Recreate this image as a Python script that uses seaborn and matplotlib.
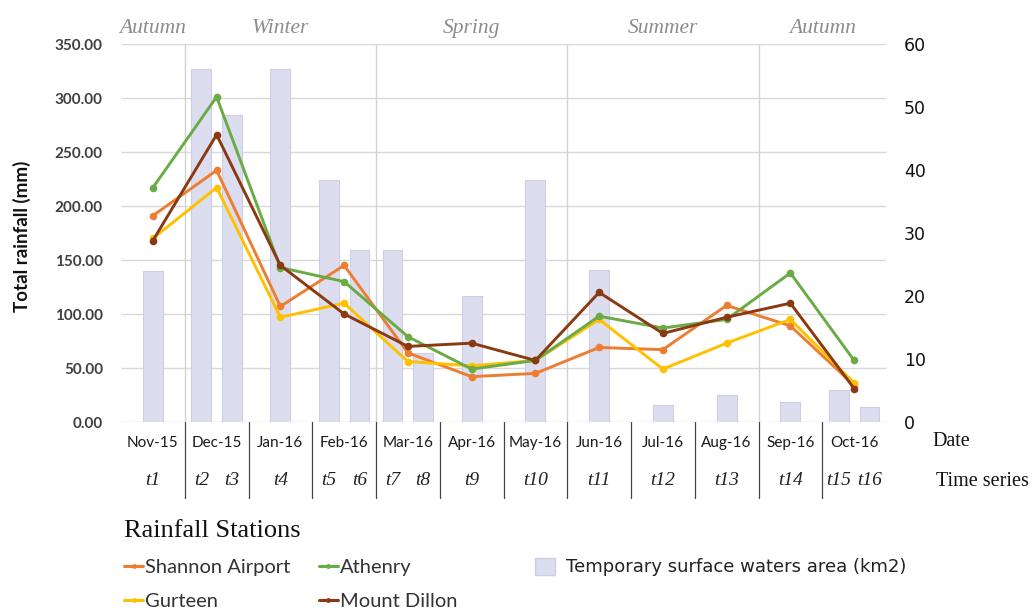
import numpy as np
import pandas as pd
import matplotlib
matplotlib.use("Agg")
import matplotlib.pyplot as plt
from matplotlib.lines import Line2D
from matplotlib.patches import Patch
import matplotlib.transforms as mtransforms
import seaborn as sns

# ---- data -------------------------------------------------------------
months = ["Nov-15", "Dec-15", "Jan-16", "Feb-16", "Mar-16", "Apr-16",
          "May-16", "Jun-16", "Jul-16", "Aug-16", "Sep-16", "Oct-16"]

stations = ["Shannon Airport", "Athenry", "Gurteen", "Mount Dillon"]
shannon_airport = [191, 233, 107, 145, 64, 42, 45, 69, 67, 108, 89, 34]
athenry = [217, 301, 143, 130, 79, 49, 57, 98, 87, 95, 138, 57]
gurteen = [170, 217, 97, 110, 56, 52, 57, 95, 49, 73, 95, 36]
mount_dillon = [168, 266, 145, 100, 70, 73, 57, 120, 82, 97, 110, 31]

time_series = ["t1", "t2", "t3", "t4", "t5", "t6", "t7", "t8",
               "t9", "t10", "t11", "t12", "t13", "t14", "t15", "t16"]
# month index (into `months`) of each acquisition
acq_month = [0, 1, 1, 2, 3, 3, 4, 4, 5, 6, 7, 8, 9, 10, 11, 11]
water_area = [24, 56, 48.7, 56, 38.4, 27.3, 27.3, 11, 20, 38.4,
              24.1, 2.7, 4.3, 3.2, 5.1, 2.4]

seasons = ["Autumn", "Winter", "Spring", "Summer", "Autumn"]
season_bounds = [-0.5, 0.5, 3.5, 6.5, 9.5, 11.5]

colors = {"Shannon Airport": "#ED7D31", "Athenry": "#6AAB45",
          "Gurteen": "#FFC000", "Mount Dillon": "#8A3A12"}

# ---- layout helpers ---------------------------------------------------
# spread acquisitions that share a month symmetrically around its centre
acq_x = []
for i, m in enumerate(acq_month):
    n = acq_month.count(m)
    if n == 1:
        acq_x.append(float(m))
    else:
        k = [j for j, mm in enumerate(acq_month) if mm == m].index(i)
        acq_x.append(m + (-0.24 if k == 0 else 0.24))

df = pd.DataFrame({
    "month": np.tile(np.arange(len(months)), len(stations)),
    "station": np.repeat(stations, len(months)),
    "rainfall": np.concatenate([shannon_airport, athenry, gurteen, mount_dillon]),
})

# ---- figure -----------------------------------------------------------
sns.set_style("white")
W, H = 1034, 616
fig = plt.figure(figsize=(W / 100, H / 100), dpi=100)
ax = fig.add_axes([121 / W, 194 / H, 765 / W, 378 / H])
ax2 = ax.twinx()
ax.set_zorder(ax2.get_zorder() + 1)
ax.patch.set_visible(False)

# horizontal grid (rainfall scale) and season dividers, behind the bars
grid_vals = np.arange(0, 351, 50)
ax2.hlines(grid_vals, -0.5, 11.5, colors="#D9D9D9", linewidth=1.0,
           transform=ax.transData, zorder=0)
ax2.vlines(season_bounds[1:-1], 0, 350, colors="#D3D3D3", linewidth=1.0,
           transform=ax.transData, zorder=0)

# surface water bars
ax2.bar(acq_x, water_area, width=0.31, color="#DDDDF0", edgecolor="#CDCDE6",
        linewidth=0.8, zorder=2)

# rainfall lines
draw_order = ["Shannon Airport", "Gurteen", "Athenry", "Mount Dillon"]
sns.lineplot(data=df, x="month", y="rainfall", hue="station",
             hue_order=draw_order, palette=colors, marker="o", markersize=5.5,
             markeredgewidth=0, linewidth=2.1, legend=False, ax=ax)

ax.set_xlim(-0.5, 11.5)
ax.set_ylim(0, 350)
ax2.set_ylim(0, 60)
for a in (ax, ax2):
    for s in a.spines.values():
        s.set_visible(False)

ax.set_ylabel("")
ax.set_xlabel("")
ax.set_yticks(grid_vals)
ax.set_yticklabels([f"{v:.2f}" for v in grid_vals], family="Lato",
                   weight="bold", size=11, color="#404040")
ax.tick_params(axis="y", length=0, pad=13)
ax2.set_yticks(np.arange(0, 61, 10))
ax2.set_yticklabels([str(v) for v in range(0, 61, 10)], family="DejaVu Sans",
                    size=12.5, color="#111111")
ax2.tick_params(axis="y", length=0, pad=13)

ax.set_xticks(np.arange(len(months)))
ax.set_xticklabels(months, family="Lato", size=11, color="#1A1A1A")
ax.tick_params(axis="x", length=0, pad=10)

blend = mtransforms.blended_transform_factory(ax.transData, ax.transAxes)

# month separators below the axis
for b in np.arange(0.5, 11.0, 1.0):
    ax.plot([b, b], [0, -0.2], transform=blend, color="#444444",
            linewidth=0.9, clip_on=False)

# acquisition labels
for x, t in zip(acq_x, time_series):
    ax.text(x, -0.156, t, transform=blend, ha="center", va="center",
            family="Liberation Serif", style="italic", size=14,
            color="#222222")

# season names above the plot
for name, lo, hi in zip(seasons, season_bounds[:-1], season_bounds[1:]):
    ax.text((lo + hi) / 2, 1.042, name, transform=blend, ha="center",
            va="center", family="Liberation Serif", style="italic",
            size=15.5, color="#8C8C8C")

fig.text(932 / W, 1 - 442 / H, "Date", family="Liberation Serif", size=14.5,
         va="center", ha="left", color="#111111")
fig.text(936 / W, 1 - 481 / H, "Time series", family="Liberation Serif",
         size=14.5, va="center", ha="left", color="#111111")

fig.text(22 / W, 1 - 236 / H, "Total rainfall (mm)", rotation=90,
         family="Lato", weight="bold", size=13.5, ha="center", va="center",
         color="#111111")

# legends
handles = [Line2D([], [], color=colors[s], marker="o", markersize=3.5,
                  markeredgewidth=0, linewidth=2.2, label=s)
           for s in ["Shannon Airport", "Gurteen", "Athenry", "Mount Dillon"]]
leg1 = fig.legend(handles=handles, ncol=2, title="Rainfall Stations",
                  loc="upper left", bbox_to_anchor=(124 / W, 1 - 520 / H),
                  frameon=False, alignment="left",
                  title_fontproperties={"family": "Liberation Serif", "size": 19},
                  prop={"family": "Lato", "size": 14.5}, handlelength=0.95,
                  handletextpad=0.1, columnspacing=1.4, labelspacing=0.85,
                  borderpad=0, borderaxespad=0)
for txt in leg1.get_texts():
    txt.set_color("#333333")
leg1.get_title().set_color("#111111")

leg2 = fig.legend(handles=[Patch(facecolor="#DDDDF0", edgecolor="#CDCDE6",
                                 label="Temporary surface waters area (km2)")],
                  loc="center left", bbox_to_anchor=(535 / W, 1 - 567 / H),
                  frameon=False, prop={"family": "DejaVu Sans", "size": 13},
                  handlelength=1.1, handleheight=1.1, handletextpad=0.6,
                  borderpad=0, borderaxespad=0)
leg2.get_texts()[0].set_color("#222222")

fig.savefig("out.png", dpi=100)
